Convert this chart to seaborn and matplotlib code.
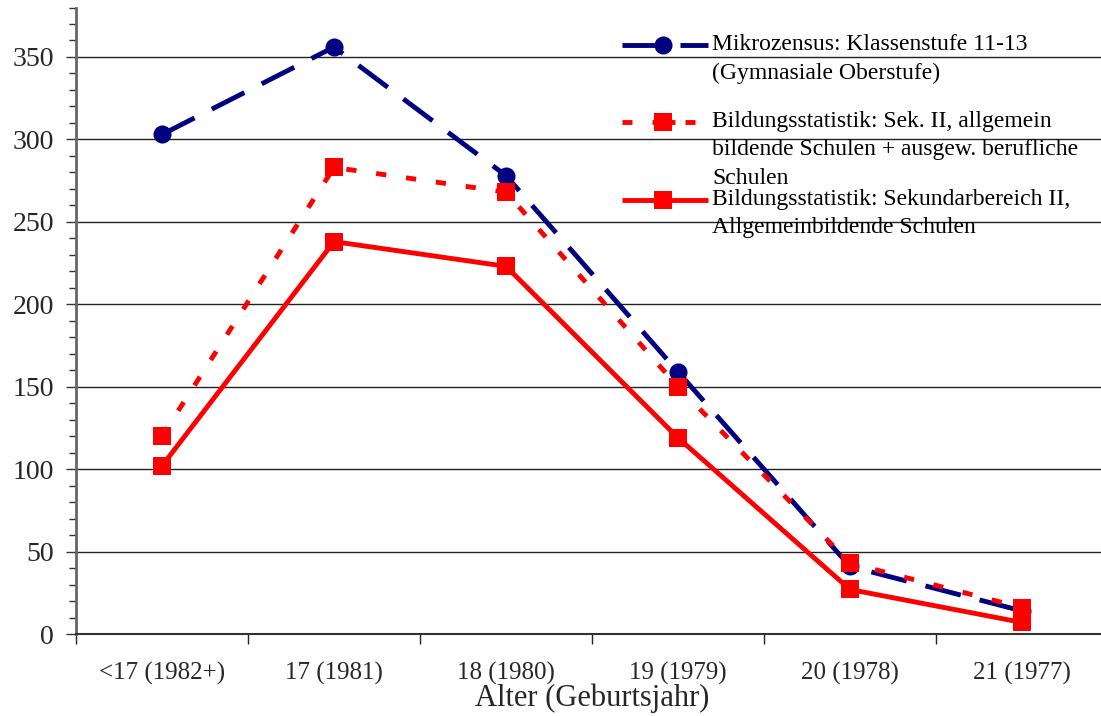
import matplotlib
matplotlib.use("Agg")
import matplotlib.pyplot as plt
import seaborn as sns
import pandas as pd
import numpy as np
from matplotlib.lines import Line2D
from matplotlib.ticker import MultipleLocator, FixedLocator

categories = ["<17 (1982+)", "17 (1981)", "18 (1980)", "19 (1979)", "20 (1978)", "21 (1977)"]
mikrozensus = [303, 356, 278, 159, 41, 14]
bildung_sek2_beruf = [120, 283, 268, 150, 43, 16]
bildung_sek2_allg = [102, 238, 223, 119, 27, 7]

label_lines = [
    ["Mikrozensus: Klassenstufe 11-13", "(Gymnasiale Oberstufe)"],
    ["Bildungsstatistik: Sek. II, allgemein", "bildende Schulen + ausgew. berufliche", "Schulen"],
    ["Bildungsstatistik: Sekundarbereich II,", "Allgemeinbildende Schulen"],
]

sns.set_theme(style="white")
plt.rcParams["font.family"] = ["Liberation Serif", "DejaVu Serif"]

fig = plt.figure(figsize=(11.01, 7.16), dpi=100)
ax = fig.add_axes([76 / 1101, 82 / 716, 1032 / 1101, 626.5 / 716])

x = np.arange(len(categories))
navy = "#000080"
red = "#FF0000"
navy_dash = (0, (7.5, 4))
red_dash = (0, (2.1, 4.1))

df = pd.DataFrame({"x": x, "m": mikrozensus, "b1": bildung_sek2_beruf, "b2": bildung_sek2_allg})

sns.lineplot(data=df, x="x", y="m", ax=ax, color=navy, lw=3.5, marker="o", markersize=13,
             markeredgewidth=0, linestyle=navy_dash, legend=False, zorder=3)
sns.lineplot(data=df, x="x", y="b1", ax=ax, color=red, lw=3.5, marker="s", markersize=13,
             markeredgewidth=0, linestyle=red_dash, legend=False, zorder=4)
sns.lineplot(data=df, x="x", y="b2", ax=ax, color=red, lw=3.5, marker="s", markersize=13,
             markeredgewidth=0, linestyle="-", legend=False, zorder=5)

ax.set_xlim(-0.5, len(categories) - 0.5)
ax.set_ylim(0, 380)
ax.set_xticks(x)
ax.set_xticklabels(categories, fontsize=18)
ax.xaxis.set_minor_locator(FixedLocator(np.arange(-0.5, len(categories), 1.0)))
ax.tick_params(axis="x", which="major", length=0, pad=20)
ax.tick_params(axis="x", which="minor", length=7, width=1, color="#222222", direction="out", bottom=True)

ax.yaxis.set_major_locator(MultipleLocator(50))
ax.yaxis.set_minor_locator(MultipleLocator(10))
ax.tick_params(axis="y", which="major", length=7, width=1, color="#333333", direction="out", left=True, labelsize=20, pad=9)
ax.tick_params(axis="y", which="minor", length=5, width=1, color="#333333", direction="out", left=True)

ax.set_ylabel("")
ax.set_xlabel("Alter (Geburtsjahr)", fontsize=22, labelpad=-1)

for v in range(50, 380, 50):
    ax.axhline(v, color="#222222", lw=1, zorder=1)

for s in ["top", "right"]:
    ax.spines[s].set_visible(False)
ax.spines["left"].set_color("#666666")
ax.spines["left"].set_linewidth(2)
ax.spines["bottom"].set_color("#333333")
ax.spines["bottom"].set_linewidth(1.5)

# Manual legend
W, H = 1101.0, 716.0
def fx(px):
    return px / W
def fy(py):
    return 1 - py / H

entries = [
    dict(y=45, color=navy, segs=[(622, 660), (680, 708)], marker="o", lines=label_lines[0], dy=[45, 73]),
    dict(y=122, color=red, segs=[(622, 632), (652, 675), (685, 695)], marker="s", lines=label_lines[1], dy=[122, 150, 178]),
    dict(y=200, color=red, segs=[(622, 708)], marker="s", lines=label_lines[2], dy=[200, 228]),
]
for e in entries:
    for a, b in e["segs"]:
        fig.add_artist(Line2D([fx(a), fx(b)], [fy(e["y"]), fy(e["y"])], transform=fig.transFigure,
                              color=e["color"], lw=3.5, solid_capstyle="butt"))
    fig.add_artist(Line2D([fx(663)], [fy(e["y"])], transform=fig.transFigure, color=e["color"],
                          marker=e["marker"], markersize=13, markeredgewidth=0, linestyle="none"))
    for txt, yy in zip(e["lines"], e["dy"]):
        fig.text(fx(712), fy(yy), txt, fontsize=17, va="center", ha="left", color="black")

fig.savefig("out.png", dpi=100)
